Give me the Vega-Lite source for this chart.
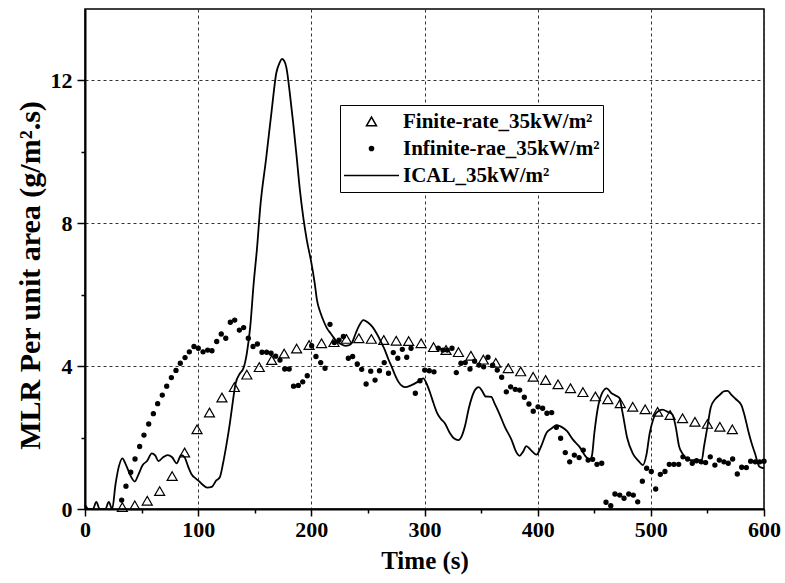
{
  "$schema": "https://vega.github.io/schema/vega-lite/v6.json",
  "width": 679,
  "height": 500,
  "autosize": "none",
  "padding": {"left": 85, "top": 9, "right": 21, "bottom": 74},
  "background": "white",
  "config": {
    "view": {"stroke": "black", "strokeWidth": 1.5},
    "font": "Liberation Serif",
    "axis": {"labelFont": "Liberation Serif", "titleFont": "Liberation Serif", "labelColor": "black", "titleColor": "black"},
    "legend": {"title": null, "orient": "none", "legendX": 255, "legendY": 96, "direction": "vertical",
      "strokeColor": "black", "fillColor": "white", "padding": 3, "rowPadding": 0, "clipHeight": 27,
      "symbolSize": 3025, "symbolStrokeColor": "black", "symbolStrokeWidth": 1.5, "symbolOffset": 0,
      "labelFont": "Liberation Serif", "labelFontSize": 21, "labelFontWeight": "bold", "labelColor": "black", "labelOffset": 3, "labelLimit": 400}
  },
  "datasets": {
    "finite": [
      {"t":33,"v":0.05},{"t":44,"v":0.1},{"t":55,"v":0.23},{"t":66,"v":0.5},{"t":77,"v":0.92},{"t":88,"v":1.58},{"t":99,"v":2.23},{"t":110,"v":2.7},{"t":121,"v":3.12},{"t":132,"v":3.41},
      {"t":143,"v":3.76},{"t":154,"v":3.97},{"t":165,"v":4.17},{"t":176,"v":4.35},{"t":187,"v":4.49},{"t":198,"v":4.59},{"t":209,"v":4.64},{"t":220,"v":4.67},{"t":231,"v":4.76},{"t":242,"v":4.78},
      {"t":253,"v":4.76},{"t":264,"v":4.73},{"t":275,"v":4.71},{"t":286,"v":4.7},{"t":297,"v":4.64},{"t":308,"v":4.53},{"t":319,"v":4.45},{"t":330,"v":4.39},{"t":341,"v":4.29},{"t":352,"v":4.18},
      {"t":363,"v":4.09},{"t":374,"v":3.94},{"t":385,"v":3.85},{"t":396,"v":3.7},{"t":407,"v":3.61},{"t":418,"v":3.49},{"t":429,"v":3.38},{"t":440,"v":3.27},{"t":451,"v":3.15},{"t":462,"v":3.07},
      {"t":473,"v":2.96},{"t":484,"v":2.86},{"t":495,"v":2.79},{"t":506,"v":2.72},{"t":517,"v":2.63},{"t":528,"v":2.54},{"t":539,"v":2.44},{"t":550,"v":2.38},{"t":561,"v":2.3},{"t":572,"v":2.23}
    ],
    "infinite": [
      {"t":32.4,"v":0.25},{"t":36.2,"v":0.64},{"t":40.4,"v":1.03},{"t":44.2,"v":1.4},{"t":48.3,"v":1.75},{"t":52.1,"v":2.07},{"t":56.3,"v":2.38},{"t":60.4,"v":2.67},{"t":64.2,"v":2.95},{"t":68.3,"v":3.19},
      {"t":72.2,"v":3.44},{"t":76.3,"v":3.68},{"t":80.4,"v":3.88},{"t":84.2,"v":4.08},{"t":88.4,"v":4.24},{"t":92.2,"v":4.4},{"t":96.3,"v":4.55},{"t":100.1,"v":4.5},{"t":104.3,"v":4.4},{"t":108.4,"v":4.45},
      {"t":112.2,"v":4.43},{"t":116.4,"v":4.69},{"t":120.4,"v":4.9},{"t":124.4,"v":4.78},{"t":128.4,"v":5.23},{"t":132.3,"v":5.29},{"t":136.4,"v":5.01},{"t":140.2,"v":5.08},{"t":144.3,"v":4.78},{"t":148.5,"v":4.55},
      {"t":152.3,"v":4.62},{"t":156.4,"v":4.39},{"t":160.5,"v":4.39},{"t":164.4,"v":4.36},{"t":168.5,"v":4.28},{"t":172.3,"v":4.17},{"t":176.5,"v":3.92},{"t":180.4,"v":3.92},{"t":184.3,"v":3.44},{"t":188.5,"v":3.46},
      {"t":192.4,"v":3.56},{"t":196.4,"v":3.73},{"t":200.3,"v":4.57},{"t":204.1,"v":4.27},{"t":208.3,"v":4.1},{"t":212.1,"v":3.94},{"t":216.5,"v":5.17},{"t":220.3,"v":4.66},{"t":224.5,"v":4.73},{"t":228.3,"v":4.83},
      {"t":232.7,"v":4.22},{"t":236.5,"v":4.27},{"t":240.6,"v":4.06},{"t":244.5,"v":3.91},{"t":248.4,"v":3.5},{"t":252.5,"v":3.86},{"t":256.3,"v":3.61},{"t":260.2,"v":3.87},{"t":264.4,"v":4.1},{"t":268.2,"v":3.8},
      {"t":272.4,"v":4.38},{"t":276.4,"v":4.22},{"t":280.4,"v":4.47},{"t":284.3,"v":4.25},{"t":288.1,"v":4.5},{"t":291.9,"v":3.24},{"t":296,"v":3.59},{"t":300.2,"v":3.89},{"t":304.2,"v":3.87},{"t":308.4,"v":3.84},
      {"t":312.2,"v":4.5},{"t":316.3,"v":4.45},{"t":320.1,"v":4.45},{"t":324.3,"v":4.5},{"t":328.1,"v":3.82},{"t":332.2,"v":4.08},{"t":336,"v":4.1},{"t":340.2,"v":3.92},{"t":344.3,"v":4.14},{"t":348.1,"v":4.03},
      {"t":352.3,"v":3.98},{"t":356.1,"v":4.25},{"t":360.2,"v":4.03},{"t":364.3,"v":3.89},{"t":368.2,"v":3.69},{"t":372.3,"v":3.28},{"t":376.1,"v":3.42},{"t":380.2,"v":3.35},{"t":384.1,"v":3.33},{"t":388.2,"v":3.13},
      {"t":392.3,"v":2.94},{"t":396.1,"v":2.74},{"t":400.3,"v":2.86},{"t":404.4,"v":2.82},{"t":408.2,"v":2.68},{"t":412.4,"v":2.7},{"t":416.5,"v":2.29},{"t":420.3,"v":1.98},{"t":424.4,"v":1.58},{"t":428.3,"v":1.32},
      {"t":432.4,"v":1.51},{"t":436.6,"v":1.44},{"t":440.3,"v":1.65},{"t":444.6,"v":1.37},{"t":448.6,"v":1.39},{"t":452.4,"v":1.25},{"t":456.6,"v":1.28},{"t":460.4,"v":0.19},{"t":464.6,"v":0.09},{"t":468.3,"v":0.42},
      {"t":472.5,"v":0.39},{"t":476.3,"v":0.3},{"t":480.5,"v":0.42},{"t":484.5,"v":0.39},{"t":488.4,"v":0.2},{"t":492.5,"v":0.78},{"t":496.3,"v":1.14},{"t":500.4,"v":1.05},{"t":504.3,"v":0.56},{"t":508.4,"v":0.97},
      {"t":512.5,"v":1.05},{"t":516.3,"v":1.25},{"t":520.4,"v":1.25},{"t":524.6,"v":1.25},{"t":528.4,"v":1.46},{"t":532.5,"v":1.4},{"t":536.6,"v":1.28},{"t":540.4,"v":1.35},{"t":544.5,"v":1.32},{"t":548.4,"v":1.3},
      {"t":552.5,"v":1.46},{"t":556.6,"v":1.23},{"t":560.5,"v":1.37},{"t":564.6,"v":1.32},{"t":568.4,"v":1.28},{"t":572.3,"v":1.4},{"t":576.4,"v":0.98},{"t":580.3,"v":1.17},{"t":584.4,"v":1.16},{"t":588.2,"v":1.34},
      {"t":592.3,"v":1.32},{"t":596.2,"v":1.32},{"t":600,"v":1.34}
    ],
    "ical": [
      {"t":0,"v":0.12},{"t":3,"v":0.0},{"t":7,"v":0.0},{"t":10,"v":0.2},{"t":13,"v":0.0},{"t":18,"v":0.0},{"t":21,"v":0.2},{"t":24,"v":0.0},{"t":27,"v":0.7},{"t":30,"v":1.2},
      {"t":33,"v":1.42},{"t":36,"v":1.25},{"t":40,"v":0.95},{"t":44,"v":0.77},{"t":47,"v":0.95},{"t":51,"v":1.23},{"t":55,"v":1.35},{"t":59,"v":1.56},{"t":62,"v":1.5},{"t":65,"v":1.34},
      {"t":69,"v":1.45},{"t":73,"v":1.51},{"t":77,"v":1.45},{"t":81,"v":1.28},{"t":85,"v":1.51},{"t":88,"v":1.45},{"t":91,"v":1.2},{"t":94,"v":0.98},{"t":98,"v":0.85},{"t":101,"v":0.77},
      {"t":104,"v":0.68},{"t":108,"v":0.6},{"t":112,"v":0.62},{"t":116,"v":0.8},{"t":119,"v":0.88},{"t":122,"v":1.28},{"t":125,"v":1.8},{"t":128,"v":2.4},{"t":130,"v":2.86},{"t":133,"v":3.5},
      {"t":137,"v":3.8},{"t":140,"v":3.94},{"t":143,"v":4.36},{"t":146,"v":5.1},{"t":149,"v":6.3},{"t":152,"v":7.3},{"t":155,"v":8.5},{"t":160,"v":9.8},{"t":165,"v":11.17},{"t":169,"v":12.2},
      {"t":172,"v":12.5},{"t":174,"v":12.6},{"t":176,"v":12.55},{"t":178,"v":12.35},{"t":181,"v":11.64},{"t":184,"v":10.8},{"t":187,"v":9.87},{"t":190,"v":8.9},{"t":193,"v":8.14},{"t":196,"v":7.53},
      {"t":200,"v":6.9},{"t":203,"v":6.32},{"t":205,"v":5.85},{"t":208,"v":5.5},{"t":211,"v":5.25},{"t":214,"v":5.05},{"t":217,"v":4.92},{"t":222,"v":4.71},{"t":226,"v":4.62},{"t":230,"v":4.57},
      {"t":233,"v":4.58},{"t":236,"v":4.66},{"t":239,"v":4.9},{"t":242,"v":5.12},{"t":246,"v":5.29},{"t":250,"v":5.22},{"t":254,"v":5.1},{"t":258,"v":4.9},{"t":262,"v":4.65},{"t":265,"v":4.45},
      {"t":268,"v":4.2},{"t":271,"v":3.98},{"t":274,"v":3.75},{"t":277,"v":3.56},{"t":280,"v":3.45},{"t":283,"v":3.41},{"t":288,"v":3.46},{"t":294,"v":3.56},{"t":299,"v":3.66},{"t":302,"v":3.5},
      {"t":305,"v":3.25},{"t":308,"v":2.96},{"t":311,"v":2.7},{"t":314,"v":2.54},{"t":318,"v":2.4},{"t":322,"v":2.15},{"t":326,"v":1.98},{"t":330,"v":1.93},{"t":333,"v":2.05},{"t":336,"v":2.35},
      {"t":339,"v":2.8},{"t":342,"v":3.14},{"t":345,"v":3.35},{"t":348,"v":3.41},{"t":351,"v":3.3},{"t":354,"v":3.15},{"t":359,"v":3.14},{"t":362,"v":2.95},{"t":366,"v":2.68},{"t":371,"v":2.3},
      {"t":377,"v":1.93},{"t":381,"v":1.6},{"t":384,"v":1.49},{"t":387,"v":1.6},{"t":390,"v":1.76},{"t":394,"v":1.65},{"t":399,"v":1.52},{"t":403,"v":1.75},{"t":408,"v":2.14},{"t":412,"v":2.25},
      {"t":417,"v":2.35},{"t":421,"v":2.3},{"t":426,"v":2.18},{"t":431,"v":1.95},{"t":437,"v":1.74},{"t":443,"v":1.45},{"t":446,"v":1.38},{"t":448,"v":1.5},{"t":450,"v":2.1},{"t":453,"v":2.8},
      {"t":457,"v":3.25},{"t":461,"v":3.38},{"t":465,"v":3.25},{"t":468,"v":3.19},{"t":472,"v":3.12},{"t":475,"v":2.7},{"t":479,"v":2.0},{"t":484,"v":1.56},{"t":489,"v":1.35},{"t":493,"v":1.23},
      {"t":496,"v":1.5},{"t":499,"v":2.12},{"t":502,"v":2.5},{"t":505,"v":2.7},{"t":510,"v":2.78},{"t":515,"v":2.72},{"t":519,"v":2.65},{"t":522,"v":2.3},{"t":525,"v":1.75},{"t":528,"v":1.55},
      {"t":534,"v":1.37},{"t":540,"v":1.37},{"t":545,"v":1.37},{"t":547,"v":1.75},{"t":550,"v":2.3},{"t":553,"v":2.85},{"t":557,"v":3.08},{"t":561,"v":3.2},{"t":565,"v":3.3},{"t":568,"v":3.31},
      {"t":571,"v":3.2},{"t":575,"v":3.08},{"t":580,"v":2.91},{"t":583,"v":2.6},{"t":586,"v":2.2},{"t":589,"v":1.85},{"t":592,"v":1.56},{"t":596,"v":1.18},{"t":600,"v":1.14}
    ]
  },
  "resolve": {"axis": {"x": "independent", "y": "independent"}},
  "layer": [
    {
      "data": {"name": "ical"},
      "mark": {"type": "line", "color": "black", "strokeWidth": 1.8, "interpolate": "monotone"},
      "encoding": {
        "x": {"field": "t", "type": "quantitative", "scale": {"domain": [0, 600], "nice": false},
          "axis": {"orient": "bottom", "values": [0,100,200,300,400,500,600], "labelFontSize": 22, "labelFontWeight": "bold", "labelPadding": 3, "labelFlush": false,
            "tickSize": 7, "tickWidth": 1.5, "tickColor": "black", "domainColor": "black", "domainWidth": 2,
            "grid": true, "gridDash": [3, 3], "gridColor": "#333", "gridWidth": 1,
            "title": "Time (s)", "titleFontSize": 25, "titleFontWeight": "bold", "titlePadding": 8}},
        "y": {"field": "v", "type": "quantitative", "scale": {"domain": [0, 14], "nice": false},
          "axis": {"orient": "left", "values": [0,4,8,12], "labelFontSize": 22, "labelFontWeight": "bold", "labelPadding": 5,
            "tickSize": 8, "tickWidth": 1.5, "tickColor": "black", "domainColor": "black", "domainWidth": 2,
            "grid": true, "gridDash": [3, 3], "gridColor": "#333", "gridWidth": 1,
            "title": "MLR Per unit area (g/m².s)", "titleFontSize": 30, "titleFontWeight": "bold", "titlePadding": 5, "titleY": 266}}
      }
    },
    {
      "data": {"name": "finite"},
      "mark": {"type": "point", "filled": true, "strokeWidth": 1.2, "size": 3025, "opacity": 1},
      "encoding": {
        "x": {"field": "t", "type": "quantitative",
          "axis": {"orient": "bottom", "values": [50,150,250,350,450,550], "labels": false, "tickSize": 4, "tickWidth": 1.5, "tickColor": "black", "domain": false, "grid": false, "title": null}},
        "y": {"field": "v", "type": "quantitative",
          "axis": {"orient": "left", "values": [2,6,10], "labels": false, "tickSize": 4, "tickWidth": 1.5, "tickColor": "black", "domain": false, "grid": false, "title": null}},
        "shape": {"datum": "Finite-rate_35kW/m²",
          "scale": {"domain": ["Finite-rate_35kW/m²", "Infinite-rae_35kW/m²", "ICAL_35kW/m²"],
                    "range": ["M0,-0.16L0.182,0.155L-0.182,0.155Z", "M0.075,0A0.075,0.075,0,1,1,-0.075,0A0.075,0.075,0,1,1,0.075,0Z", "M-1,0H1"]}},
        "fill": {"datum": "Finite-rate_35kW/m²",
          "scale": {"domain": ["Finite-rate_35kW/m²", "Infinite-rae_35kW/m²", "ICAL_35kW/m²"], "range": ["transparent", "black", "transparent"]}},
        "stroke": {"datum": "Finite-rate_35kW/m²",
          "scale": {"domain": ["Finite-rate_35kW/m²", "Infinite-rae_35kW/m²", "ICAL_35kW/m²"], "range": ["black", "black", "black"]}}
      }
    },
    {
      "data": {"name": "infinite"},
      "mark": {"type": "point", "filled": true, "strokeWidth": 1.2, "size": 3025, "opacity": 1},
      "encoding": {
        "x": {"field": "t", "type": "quantitative", "axis": null},
        "y": {"field": "v", "type": "quantitative", "axis": null},
        "shape": {"datum": "Infinite-rae_35kW/m²"},
        "fill": {"datum": "Infinite-rae_35kW/m²"},
        "stroke": {"datum": "Infinite-rae_35kW/m²"}
      }
    }
  ]
}
